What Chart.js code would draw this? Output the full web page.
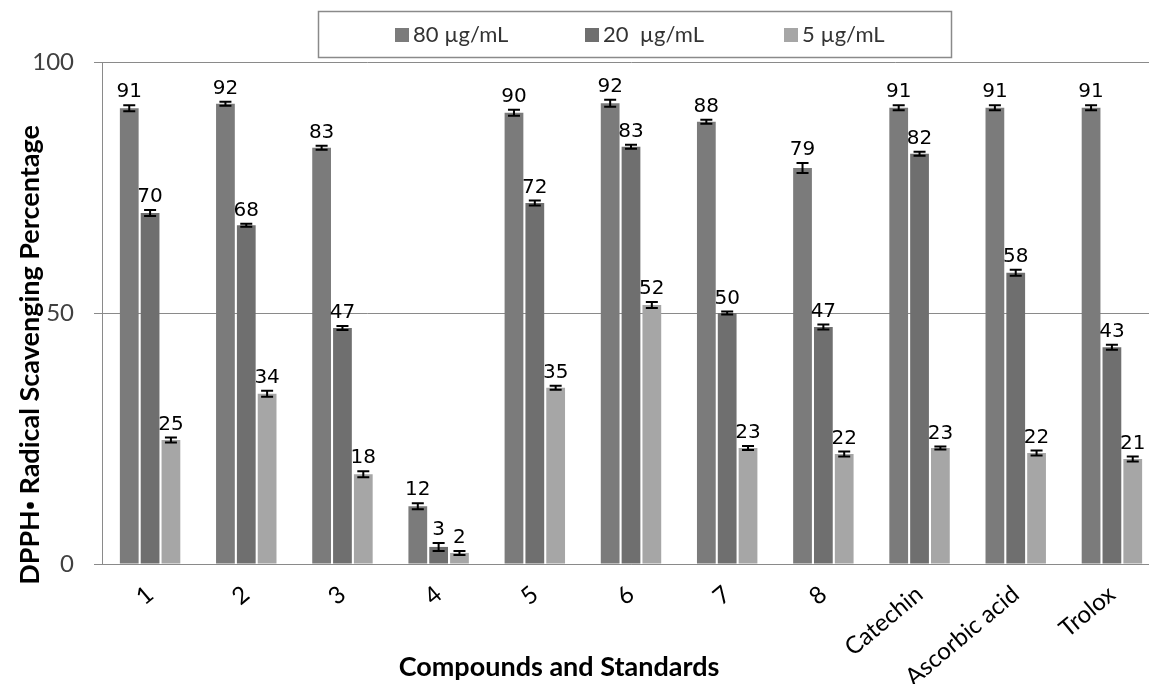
<!DOCTYPE html>
<html>
<head>
<meta charset="utf-8">
<script src="https://cdn.jsdelivr.net/npm/chart.js@4.4.1/dist/chart.umd.min.js"></script>
<style>
  html, body { margin: 0; padding: 0; background: #fff; overflow: hidden; }
  #wrap { width: 1162px; height: 684px; position: relative; }
</style>
</head>
<body>
<div id="wrap"><canvas id="c" width="1162" height="684"></canvas></div>
<script>
const categories = ['1', '2', '3', '4', '5', '6', '7', '8', 'Catechin', 'Ascorbic acid', 'Trolox'];
const seriesLabels = ['80 µg/mL', '20  µg/mL', '5 µg/mL'];
const values80 = [90.8, 91.7, 82.9, 11.5, 89.9, 91.8, 88.1, 78.9, 90.9, 90.9, 90.9];
const values20 = [69.9, 67.5, 47.0, 3.4, 71.9, 83.1, 50.0, 47.2, 81.7, 58.0, 43.2];
const values5  = [24.7, 33.9, 17.9, 2.2, 35.1, 51.6, 23.1, 21.9, 23.1, 22.1, 20.9];
const errors80 = [0.6, 0.4, 0.4, 0.6, 0.6, 0.7, 0.4, 1.0, 0.5, 0.5, 0.5];
const errors20 = [0.6, 0.3, 0.4, 0.8, 0.5, 0.4, 0.3, 0.5, 0.4, 0.6, 0.5];
const errors5  = [0.5, 0.6, 0.6, 0.4, 0.4, 0.6, 0.4, 0.5, 0.3, 0.5, 0.5];
const yTicks = [0, 50, 100];
const xTitle = 'Compounds and Standards';
const yTitleParts = ['DPPH', '\u2022', ' Radical Scavenging Percentage'];

const colors = ['#7b7b7b', '#6f6f6f', '#a6a6a6'];
const allValues = [values80, values20, values5];
const allErrors = [errors80, errors20, errors5];

const errorBarsAndLabels = {
  id: 'errorBarsAndLabels',
  afterDatasetsDraw(chart) {
    const ctx = chart.ctx;
    const y = chart.scales.y;
    ctx.save();
    chart.data.datasets.forEach((ds, di) => {
      const meta = chart.getDatasetMeta(di);
      meta.data.forEach((bar, i) => {
        const v = ds.data[i];
        const e = ds.errors[i];
        const yTop = y.getPixelForValue(v + e);
        const yBot = y.getPixelForValue(v - e);
        const x = bar.x;
        ctx.strokeStyle = '#000';
        ctx.lineWidth = 2;
        ctx.beginPath();
        ctx.moveTo(x, yTop); ctx.lineTo(x, yBot);
        ctx.moveTo(x - 6, yTop); ctx.lineTo(x + 6, yTop);
        ctx.moveTo(x - 6, yBot); ctx.lineTo(x + 6, yBot);
        ctx.stroke();
        ctx.fillStyle = '#000';
        ctx.font = '20px "DejaVu Sans"';
        ctx.textAlign = 'center';
        ctx.textBaseline = 'bottom';
        ctx.fillText(String(Math.round(v)), x, yTop - 3);
      });
    });
    ctx.restore();
  }
};

const customLegendAndTitles = {
  id: 'customLegendAndTitles',
  afterDraw(chart) {
    const ctx = chart.ctx;
    ctx.save();
    // legend box
    ctx.strokeStyle = '#8a8a8a';
    ctx.lineWidth = 1.5;
    ctx.strokeRect(318.5, 11.5, 633, 46);
    const itemX = [395, 585, 784];
    ctx.font = '22px Lato';
    ctx.textBaseline = 'middle';
    ctx.textAlign = 'left';
    chart.data.datasets.forEach((ds, i) => {
      ctx.fillStyle = ds.backgroundColor;
      ctx.fillRect(itemX[i], 28, 14, 14);
      ctx.fillStyle = '#333';
      ctx.fillText(ds.label, itemX[i] + 18, 35);
    });
    // x title
    ctx.fillStyle = '#000';
    ctx.font = 'bold 27px Lato';
    ctx.textAlign = 'center';
    ctx.textBaseline = 'middle';
    ctx.fillText(xTitle, 559, 667);
    // y title, drawn in parts so the bullet is small
    const fonts = ['bold 27px Lato', 'bold 24px "Open Sans"', 'bold 27px Lato'];
    const widths = yTitleParts.map((t, i) => { ctx.font = fonts[i]; return ctx.measureText(t).width; });
    const total = widths.reduce((a, b) => a + b, 0);
    ctx.translate(29, 355);
    ctx.rotate(-Math.PI / 2);
    ctx.textAlign = 'left';
    ctx.textBaseline = 'alphabetic';
    let cx = -total / 2;
    yTitleParts.forEach((t, i) => {
      ctx.font = fonts[i];
      ctx.fillText(t, cx, 10);
      cx += widths[i];
    });
    ctx.restore();
  }
};

new Chart(document.getElementById('c'), {
  type: 'bar',
  data: {
    labels: categories,
    datasets: seriesLabels.map((lab, i) => ({
      label: lab,
      data: allValues[i],
      errors: allErrors[i],
      backgroundColor: colors[i],
      borderWidth: 0,
      categoryPercentage: 0.65,
      barPercentage: 0.9
    }))
  },
  options: {
    responsive: false,
    animation: false,
    devicePixelRatio: 1,
    layout: { padding: { top: 62, right: 2, left: 0, bottom: 0 } },
    plugins: { legend: { display: false }, tooltip: { enabled: false } },
    scales: {
      x: {
        grid: { display: false },
        border: { display: true, color: '#8a8a8a', width: 1 },
        ticks: {
          color: '#000',
          font: { family: 'Lato', size: 24 },
          minRotation: 40, maxRotation: 40,
          padding: 8
        },
        afterFit(scale) { scale.height = 120; }
      },
      y: {
        min: 0, max: 100,
        afterBuildTicks(scale) { scale.ticks = yTicks.map(v => ({ value: v })); },
        grid: { color: '#8a8a8a', lineWidth: 1, tickLength: 8, drawTicks: true },
        border: { display: true, color: '#8a8a8a', width: 1 },
        ticks: {
          color: '#404040',
          font: { family: 'Lato', size: 24 },
          padding: 20
        },
        afterFit(scale) { scale.width = 102; }
      }
    }
  },
  plugins: [errorBarsAndLabels, customLegendAndTitles]
});
</script>
</body>
</html>
